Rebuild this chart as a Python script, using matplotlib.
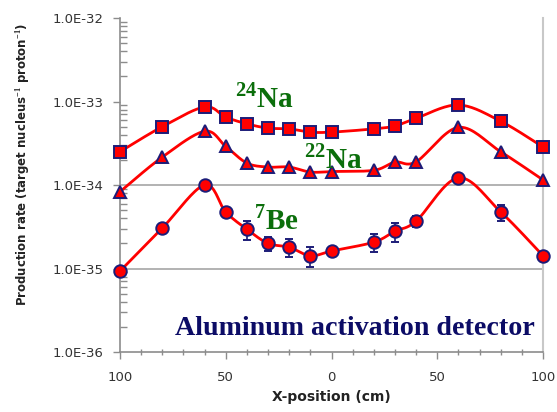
import numpy as np
import matplotlib.pyplot as plt
from matplotlib.ticker import MultipleLocator, FuncFormatter, LogLocator, NullFormatter

plt.rcParams['mathtext.fontset'] = 'custom'
plt.rcParams['mathtext.rm'] = 'Liberation Serif:bold'
plt.rcParams['mathtext.bf'] = 'Liberation Serif:bold'

# position along the beam (cm), left half shown as positive too
x_pos = [-100, -80, -60, -50, -40, -30, -20, -10, 0, 20, 30, 40, 60, 80, 100]
na24 = [2.5e-34, 5.0e-34, 8.6e-34, 6.5e-34, 5.4e-34, 4.8e-34, 4.7e-34, 4.3e-34,
        4.3e-34, 4.7e-34, 5.1e-34, 6.3e-34, 9.1e-34, 5.8e-34, 2.85e-34]
na22 = [8.3e-35, 2.16e-34, 4.4e-34, 2.9e-34, 1.83e-34, 1.64e-34, 1.64e-34, 1.43e-34,
        1.45e-34, 1.5e-34, 1.88e-34, 1.9e-34, 4.9e-34, 2.5e-34, 1.15e-34]
be7 = [9.3e-36, 3.05e-35, 1.0e-34, 4.75e-35, 2.95e-35, 2.0e-35, 1.8e-35, 1.42e-35,
       1.62e-35, 2.07e-35, 2.8e-35, 3.7e-35, 1.22e-34, 4.75e-35, 1.42e-35]
be7_err = [0.05, 0.08, 0.06, 0.1, 0.25, 0.2, 0.24, 0.26,
           0.1, 0.24, 0.25, 0.15, 0.06, 0.22, 0.08]

ytick_vals = [1e-36, 1e-35, 1e-34, 1e-33, 1e-32]
xtick_vals = [-100, -50, 0, 50, 100]


def smooth(x, y, n=20):
    # catmull-rom through the points, in log space (like excel smoothed lines)
    px = np.array(x, dtype=float)
    py = np.log10(np.array(y))
    xs, ys = [], []
    for i in range(len(px) - 1):
        x0, x1 = px[i], px[i + 1]
        y0, y1 = py[i], py[i + 1]
        xm = px[i - 1] if i > 0 else x0
        ym = py[i - 1] if i > 0 else y0
        xp = px[i + 2] if i + 2 < len(px) else x1
        yp = py[i + 2] if i + 2 < len(py) else y1
        mx0, my0 = (x1 - xm) / 2, (y1 - ym) / 2
        mx1, my1 = (xp - x0) / 2, (yp - y0) / 2
        t = np.linspace(0, 1, n)
        h00 = 2*t**3 - 3*t**2 + 1
        h10 = t**3 - 2*t**2 + t
        h01 = -2*t**3 + 3*t**2
        h11 = t**3 - t**2
        xs.append(h00*x0 + h10*mx0 + h01*x1 + h11*mx1)
        ys.append(h00*y0 + h10*my0 + h01*y1 + h11*my1)
    return np.concatenate(xs), 10**np.concatenate(ys)


red = '#ff0000'
navy = '#1c1c78'
green = '#0b6e0b'

fig = plt.figure(figsize=(5.57, 4.12), dpi=100)
ax = fig.add_axes([0.2154, 0.1456, 0.7596, 0.8107])

ax.axhline(1e-34, color='#a6a6a6', lw=1.2, zorder=1)
ax.axhline(1e-35, color='#a6a6a6', lw=1.2, zorder=1)

for yv, mk in [(na24, 's'), (na22, '^')]:
    sx, sy = smooth(x_pos, yv)
    ax.plot(sx, sy, color=red, lw=2.0, zorder=3, clip_on=False)
    ax.plot(x_pos, yv, ls='none', marker=mk, ms=8.5, mfc=red, mec=navy,
            mew=1.4, zorder=4, clip_on=False)

sx, sy = smooth(x_pos, be7)
ax.plot(sx, sy, color=red, lw=2.0, zorder=3, clip_on=False)
err = np.array(be7) * np.array(be7_err)
ax.errorbar(x_pos, be7, yerr=err, fmt='o', ms=9, mfc=red, mec=navy, mew=1.4,
            ecolor=navy, elinewidth=1.2, capsize=3, capthick=1.2, zorder=4,
            clip_on=False)

ax.set_yscale('log')
ax.set_ylim(1e-36, 1e-32)
ax.set_xlim(-100, 100)
ax.set_yticks(ytick_vals)
ax.yaxis.set_minor_locator(LogLocator(base=10, subs=np.arange(2, 10)))
ax.yaxis.set_minor_formatter(NullFormatter())
ax.yaxis.set_major_formatter(FuncFormatter(lambda v, p: '1.0E%d' % round(np.log10(v))))
ax.set_xticks(xtick_vals)
ax.xaxis.set_minor_locator(MultipleLocator(10))
ax.xaxis.set_major_formatter(FuncFormatter(lambda v, p: '%d' % abs(v)))

ax.tick_params(axis='both', which='major', colors='#8c8c8c', labelcolor='#333333',
               labelsize=9.5, length=5, width=1, direction='out')
ax.tick_params(axis='y', which='major', pad=7)
ax.tick_params(axis='y', which='minor', colors='#8c8c8c', length=5, width=1,
               direction='in')
ax.tick_params(axis='x', which='minor', colors='#8c8c8c', length=4, width=1,
               direction='inout')
ax.tick_params(axis='x', which='major', pad=9)

for s in ['left', 'bottom']:
    ax.spines[s].set_color('#8c8c8c')
    ax.spines[s].set_linewidth(1.2)
ax.spines['right'].set_color('#c8c8c8')
ax.spines['right'].set_linewidth(1.5)
ax.spines['top'].set_visible(False)

ax.set_xlabel('X-position (cm)', fontsize=10, fontweight='bold', color='#222222',
              labelpad=4)
fig.text(0.042, 0.60, 'Production rate (target nucleus$^{-1}$ proton$^{-1}$)',
         rotation=90, fontsize=8.5, fontweight='bold', color='#222222',
         ha='center', va='center')

fig.text(235/557, 1 - 107/412, r'$^{24}$Na', fontsize=21, color=green,
         family='Liberation Serif', fontweight='bold', va='baseline')
fig.text(304/557, 1 - 168/412, r'$^{22}$Na', fontsize=21, color=green,
         family='Liberation Serif', fontweight='bold', va='baseline')
fig.text(254/557, 1 - 229/412, r'$^{7}$Be', fontsize=21, color=green,
         family='Liberation Serif', fontweight='bold', va='baseline')
fig.text(175/557, 1 - 335/412, 'Aluminum activation detector', fontsize=20.2,
         color='#0c0c66', family='Liberation Serif', fontweight='bold',
         va='baseline')

fig.savefig('out.png', dpi=100)
